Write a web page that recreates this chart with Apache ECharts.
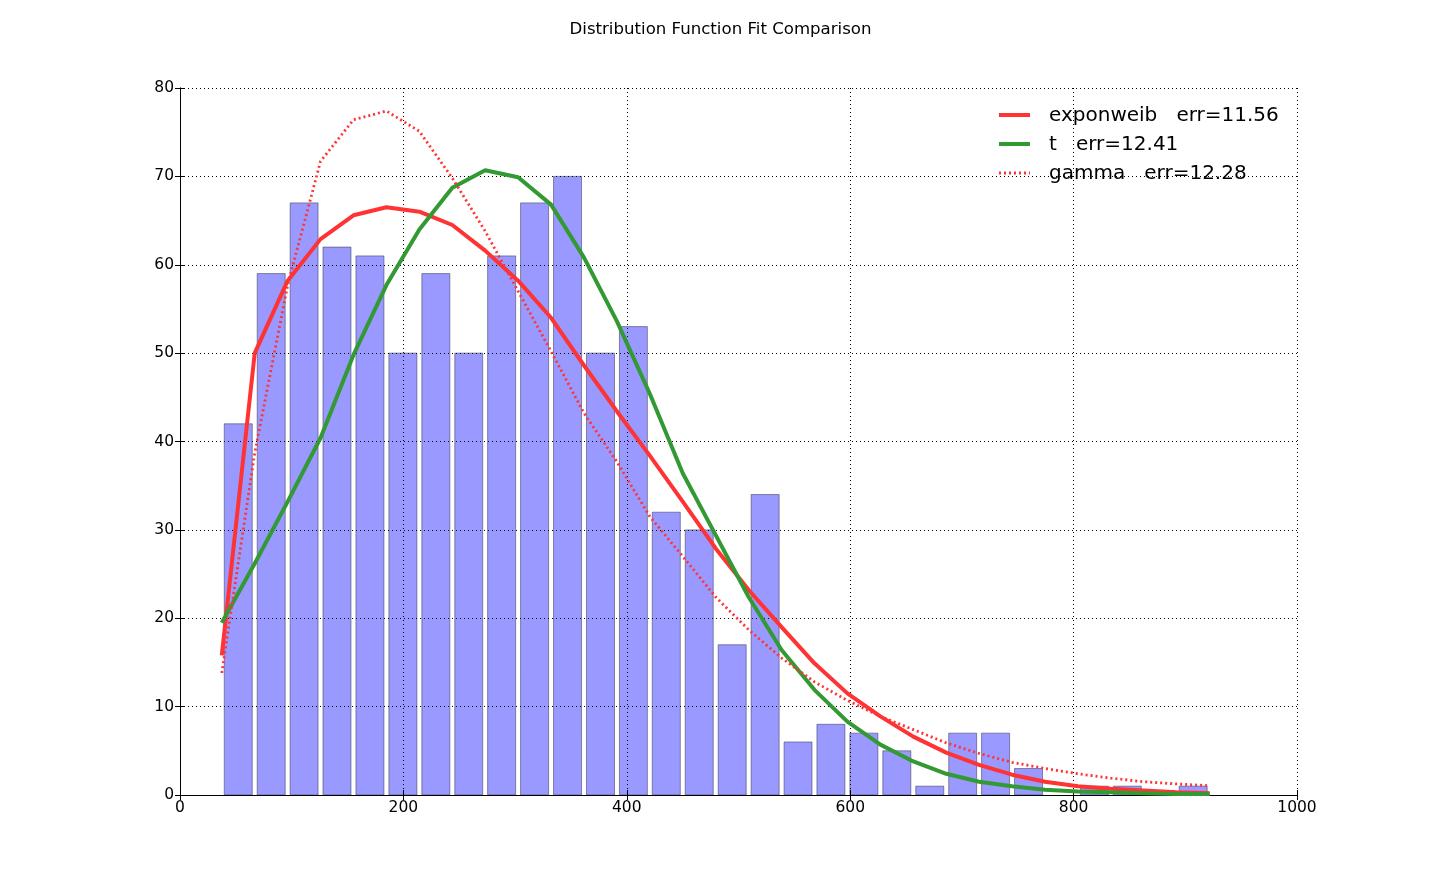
<!DOCTYPE html>
<html>
<head>
<meta charset="utf-8">
<script src="https://cdn.jsdelivr.net/npm/echarts@6/dist/echarts.min.js"></script>
<style>html,body{margin:0;padding:0;background:#fff;}#c{width:1441px;height:883px;}</style>
</head>
<body>
<div id="c"></div>
<script>
const titleText = 'Distribution Function Fit Comparison';
const binEdges = [37.4,66.9,96.4,125.8,155.3,184.8,214.3,243.8,273.2,302.7,332.2,361.7,391.2,420.6,450.1,479.6,509.1,538.6,568.0,597.5,627.0,656.5,686.0,715.4,744.9,774.4,803.9,833.4,862.8,892.3,921.8];
const counts = [42,59,67,62,61,50,59,50,61,67,70,50,53,32,30,17,34,6,8,7,5,1,7,7,3,0,1,1,0,1];
const exponweib = [15.8,50.0,58.2,62.9,65.6,66.5,66.0,64.5,61.6,58.2,54.0,48.6,43.4,38.4,33.2,27.9,23.2,19.0,14.9,11.5,8.9,6.6,4.8,3.4,2.3,1.5,1.0,0.7,0.5,0.3,0.2];
const tdist = [19.5,26.2,33.2,40.4,49.8,57.7,64.0,68.7,70.7,69.9,66.8,60.8,53.6,45.4,36.4,29.4,22.4,16.4,11.9,8.3,5.7,3.8,2.4,1.5,1.0,0.6,0.4,0.3,0.2,0.1,0.1];
const gamma = [13.8,38.7,57.7,71.7,76.4,77.4,75.1,69.8,63.8,57.0,50.2,43.2,37.7,31.5,27.0,22.4,18.7,15.5,12.8,10.7,8.9,7.4,5.9,4.7,3.7,3.0,2.4,1.9,1.5,1.25,1.05];
const seriesNames = ['exponweib   err=11.56', 't   err=12.41', 'gamma   err=12.28'];
const xTicks = {min: 0, max: 1000, interval: 200};
const yTicks = {min: 0, max: 80, interval: 10};

const pairs = arr => arr.map((v, i) => [binEdges[i], v]);
const barData = counts.map((c, i) => [binEdges[i], binEdges[i + 1], c]);

const font = 'DejaVu Sans';
const red = '#ff3333', green = '#339933';
const styles = [
  {color: red, width: 4, type: 'solid'},
  {color: green, width: 4, type: 'solid'},
  {color: red, width: 2.8, type: [2, 3]}
];
const gridLine = {show: true, lineStyle: {color: '#000', width: 1, type: [1, 3]}};
const legendGraphics = [];
seriesNames.forEach((n, i) => {
  const y = 115 + i * 29;
  legendGraphics.push({type: 'line', z: 10, shape: {x1: 999, y1: y, x2: 1030, y2: y},
    style: {stroke: styles[i].color, lineWidth: styles[i].width, lineDash: Array.isArray(styles[i].type) ? styles[i].type : null}});
  legendGraphics.push({type: 'text', z: 10, x: 1049, y: y + 1,
    style: {text: n, fontFamily: font, fontSize: 20, fill: '#000', textVerticalAlign: 'middle', verticalAlign: 'middle'}});
});

const chart = echarts.init(document.getElementById('c'), null, {renderer: 'canvas'});
chart.setOption({
  backgroundColor: '#fff',
  animation: false,
  title: {text: titleText, left: 'center', top: 16, textStyle: {fontFamily: font, fontSize: 16.6, fontWeight: 'normal', color: '#000'}},
  grid: {left: 180, right: 144, top: 88, bottom: 88, containLabel: false},
  graphic: legendGraphics,
  xAxis: [
    {type: 'value', min: xTicks.min, max: xTicks.max, interval: xTicks.interval, position: 'bottom', z: 2,
     axisLine: {show: true, onZero: false, lineStyle: {color: '#000', width: 1}},
     axisTick: {show: true, inside: true, length: 5, lineStyle: {color: '#000'}},
     axisLabel: {fontFamily: font, fontSize: 15.5, color: '#000', margin: 5, formatter: v => String(v)},
     splitLine: gridLine},
    {type: 'value', min: xTicks.min, max: xTicks.max, interval: xTicks.interval, position: 'top', z: 2,
     axisLine: {show: true, lineStyle: {color: '#000', width: 1}},
     axisTick: {show: true, inside: true, length: 5, lineStyle: {color: '#000'}},
     axisLabel: {show: false}, splitLine: {show: false}}
  ],
  yAxis: [
    {type: 'value', min: yTicks.min, max: yTicks.max, interval: yTicks.interval, position: 'left', z: 2,
     axisLine: {show: true, onZero: false, lineStyle: {color: '#000', width: 1}},
     axisTick: {show: true, inside: true, length: 5, lineStyle: {color: '#000'}},
     axisLabel: {fontFamily: font, fontSize: 15.5, color: '#000', margin: 6, formatter: v => String(v)},
     splitLine: gridLine},
    {type: 'value', min: yTicks.min, max: yTicks.max, interval: yTicks.interval, position: 'right', z: 2,
     axisLine: {show: true, lineStyle: {color: '#000', width: 1}},
     axisTick: {show: true, inside: true, length: 5, lineStyle: {color: '#000'}},
     axisLabel: {show: false}, splitLine: {show: false}}
  ],
  series: [
    {type: 'custom', name: 'hist', z: 1, xAxisIndex: 0, yAxisIndex: 0, data: barData,
     encode: {x: [0, 1], y: 2},
     renderItem: function (params, api) {
       const l = api.value(0), r = api.value(1), h = api.value(2);
       if (h <= 0) return null;
       const w = r - l;
       const p0 = api.coord([l + 0.075 * w, h]);
       const p1 = api.coord([l + 0.925 * w, 0]);
       return {type: 'rect', shape: {x: p0[0], y: p0[1], width: p1[0] - p0[0], height: p1[1] - p0[1]},
               style: {fill: '#9999ff', stroke: 'rgba(60,60,90,0.55)', lineWidth: 1}};
     }},
    {type: 'line', name: seriesNames[0], z: 3, data: pairs(exponweib), symbol: 'none', smooth: false,
     lineStyle: styles[0], itemStyle: {color: red}},
    {type: 'line', name: seriesNames[1], z: 3, data: pairs(tdist), symbol: 'none', smooth: false,
     lineStyle: styles[1], itemStyle: {color: green}},
    {type: 'line', name: seriesNames[2], z: 4, data: pairs(gamma), symbol: 'none', smooth: false,
     lineStyle: styles[2], itemStyle: {color: red}}
  ]
});
</script>
</body>
</html>
